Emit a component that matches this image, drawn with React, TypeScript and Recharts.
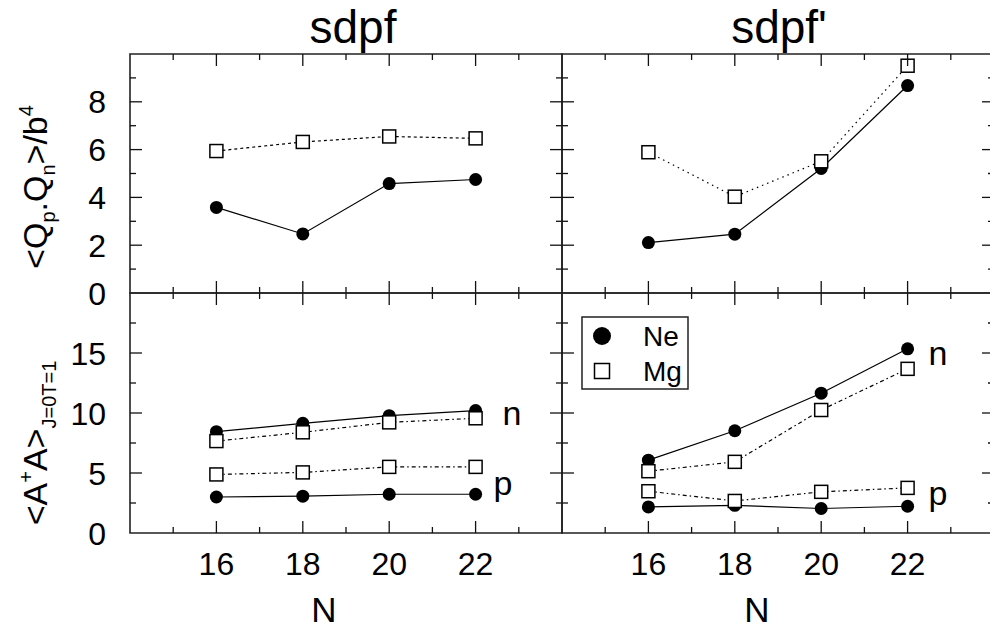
import { LineChart, Line, XAxis, YAxis, ReferenceArea, LabelList } from 'recharts';

// N values (x axis)
const nValues = [16, 18, 20, 22];
const xMajorTicks = [16, 18, 20, 22];
const xAllTicks = [15, 16, 17, 18, 19, 20, 21, 22, 23];

// <Qp.Qn>/b^4
const qqNeSdpf = [3.58, 2.47, 4.58, 4.75];
const qqMgSdpf = [5.94, 6.32, 6.55, 6.47];
const qqNeSdpfP = [2.11, 2.46, 5.21, 8.68];
const qqMgSdpfP = [5.89, 4.03, 5.51, 9.51];

// <A+A> J=0 T=1, neutrons (n) and protons (p)
const aaNeNSdpf = [8.44, 9.14, 9.78, 10.2];
const aaMgNSdpf = [7.66, 8.39, 9.22, 9.56];
const aaNePSdpf = [3.0, 3.07, 3.23, 3.23];
const aaMgPSdpf = [4.88, 5.05, 5.51, 5.51];
const aaNeNSdpfP = [6.07, 8.52, 11.65, 15.35];
const aaMgNSdpfP = [5.15, 5.93, 10.25, 13.68];
const aaNePSdpfP = [2.17, 2.31, 2.04, 2.23];
const aaMgPSdpfP = [3.48, 2.67, 3.43, 3.76];

const qqTicks = [0, 1, 2, 3, 4, 5, 6, 7, 8, 9];
const qqLabels = [0, 2, 4, 6, 8];
const aaTicks = [0, 2.5, 5, 7.5, 10, 12.5, 15, 17.5];
const aaLabels = [0, 5, 10, 15];

const FONT = '"Liberation Sans", Arial, Helvetica, sans-serif';
const W = 1000;
const H = 632;
const INK = '#111';

type Box = { left: number; right: number; top: number; bottom: number };
type Series = { key: string; kind: 'ne' | 'mg'; dash?: string; tag?: string; tagDx?: number; tagDy?: number };

function Panel({ box, rows, series, yMax, yTicks, yMajorStep, yLabels, showX }: {
  box: Box; rows: any[]; series: Series[]; yMax: number; yTicks: number[]; yMajorStep: number;
  yLabels: number[] | null; showX: boolean;
}) {
  const xTick = (p: any) => {
    const v = p.payload.value;
    const major = v % 2 === 0;
    const len = major ? 12 : 6;
    return (
      <g key={`xt-${v}`}>
        <line x1={p.x} x2={p.x} y1={box.bottom} y2={box.bottom - len} stroke={INK} strokeWidth={1.3} />
        <line x1={p.x} x2={p.x} y1={box.top} y2={box.top + len} stroke={INK} strokeWidth={1.3} />
        {showX && xMajorTicks.includes(v) && (
          <text x={p.x} y={575} textAnchor="middle" fontSize={32} fontFamily={FONT} fill="#000">{v}</text>
        )}
      </g>
    );
  };

  const yTick = (p: any) => {
    const v = p.payload.value;
    const major = v % yMajorStep === 0;
    const len = major ? 12 : 6;
    return (
      <g key={`yt-${v}`}>
        {v > 0 && v < yMax && (
          <>
            <line x1={box.left} x2={box.left + len} y1={p.y} y2={p.y} stroke={INK} strokeWidth={1.3} />
            <line x1={box.right - len} x2={box.right} y1={p.y} y2={p.y} stroke={INK} strokeWidth={1.3} />
          </>
        )}
        {yLabels && yLabels.includes(v) && (
          <text x={106} y={p.y + 11.5} textAnchor="end" fontSize={32} fontFamily={FONT} fill="#000">{v}</text>
        )}
      </g>
    );
  };

  return (
    <div style={{ position: 'absolute', left: 0, top: 0 }}>
      <LineChart
        width={W}
        height={H}
        data={rows}
        margin={{ left: box.left - 1, right: W - box.right, top: box.top, bottom: H - box.bottom - 1 }}
      >
        <XAxis dataKey="N" type="number" domain={[14, 24]} ticks={xAllTicks} interval={0}
          height={1} axisLine={false} tickLine={false} tick={xTick} allowDataOverflow />
        <YAxis type="number" domain={[0, yMax]} ticks={yTicks} interval={0}
          width={1} axisLine={false} tickLine={false} tick={yTick} allowDataOverflow />
        <ReferenceArea x1={14} x2={24} y1={0} y2={yMax} fill="none" stroke="#222" strokeWidth={1.6} />
        {series.map((s) => (
          <Line
            key={s.key}
            dataKey={s.key}
            type="linear"
            stroke="#000"
            strokeWidth={1.2}
            strokeDasharray={s.dash}
            isAnimationActive={false}
            activeDot={false}
            dot={(p: any) =>
              s.kind === 'ne' ? (
                <circle key={`${s.key}-${p.index}`} cx={p.cx} cy={p.cy} r={6.5} fill="#000" />
              ) : (
                <rect key={`${s.key}-${p.index}`} x={p.cx - 6.5} y={p.cy - 6.5} width={13} height={13}
                  fill="#fff" stroke="#000" strokeWidth={1.5} />
              )
            }
          >
            {s.tag && (
              <LabelList
                dataKey={s.key}
                content={(p: any) =>
                  p.index === rows.length - 1 ? (
                    <text x={p.x + (s.tagDx || 0)} y={p.y + (s.tagDy || 0)} fontSize={34}
                      fontFamily={FONT} fill="#000">{s.tag}</text>
                  ) : null
                }
              />
            )}
          </Line>
        ))}
      </LineChart>
    </div>
  );
}

const topRows = (ne: number[], mg: number[]) => nValues.map((n, i) => ({ N: n, ne: ne[i], mg: mg[i] }));
const botRows = (neN: number[], mgN: number[], neP: number[], mgP: number[]) =>
  nValues.map((n, i) => ({ N: n, neN: neN[i], mgN: mgN[i], neP: neP[i], mgP: mgP[i] }));

export default function App() {
  const L = 130, M = 562, R = 994;
  const T = 54, C = 293, B = 533;

  const topLeft: Series[] = [
    { key: 'ne', kind: 'ne' },
    { key: 'mg', kind: 'mg', dash: '3 3' },
  ];
  const topRight: Series[] = [
    { key: 'ne', kind: 'ne' },
    { key: 'mg', kind: 'mg', dash: '1.5 4' },
  ];
  const botLeft: Series[] = [
    { key: 'neN', kind: 'ne', tag: 'n', tagDx: 27, tagDy: 14 },
    { key: 'neP', kind: 'ne', tag: 'p', tagDx: 18, tagDy: 1 },
    { key: 'mgN', kind: 'mg', dash: '4 3 1.5 3' },
    { key: 'mgP', kind: 'mg', dash: '4 3 1.5 3' },
  ];
  const botRight: Series[] = [
    { key: 'neN', kind: 'ne', tag: 'n', tagDx: 21, tagDy: 16 },
    { key: 'neP', kind: 'ne', tag: 'p', tagDx: 21, tagDy: -1 },
    { key: 'mgN', kind: 'mg', dash: '4 3 1.5 3' },
    { key: 'mgP', kind: 'mg', dash: '4 3 1.5 3' },
  ];

  return (
    <div style={{ position: 'absolute', left: 0, top: 0, width: 990, height: 632, overflow: 'hidden', background: '#fff' }}>
      <Panel box={{ left: L, right: M, top: T, bottom: C }} rows={topRows(qqNeSdpf, qqMgSdpf)} series={topLeft}
        yMax={10} yTicks={qqTicks} yMajorStep={2} yLabels={qqLabels} showX={false} />
      <Panel box={{ left: M, right: R, top: T, bottom: C }} rows={topRows(qqNeSdpfP, qqMgSdpfP)} series={topRight}
        yMax={10} yTicks={qqTicks} yMajorStep={2} yLabels={null} showX={false} />
      <Panel box={{ left: L, right: M, top: C, bottom: B }} rows={botRows(aaNeNSdpf, aaMgNSdpf, aaNePSdpf, aaMgPSdpf)}
        series={botLeft} yMax={20} yTicks={aaTicks} yMajorStep={5} yLabels={aaLabels} showX />
      <Panel box={{ left: M, right: R, top: C, bottom: B }} rows={botRows(aaNeNSdpfP, aaMgNSdpfP, aaNePSdpfP, aaMgPSdpfP)}
        series={botRight} yMax={20} yTicks={aaTicks} yMajorStep={5} yLabels={null} showX />

      <svg width={990} height={632} style={{ position: 'absolute', left: 0, top: 0 }} fontFamily={FONT}>
        <text x={353} y={43} textAnchor="middle" fontSize={46}>sdpf</text>
        <text x={779} y={43} textAnchor="middle" fontSize={46}>sdpf'</text>

        <text transform="translate(47,187) rotate(-90)" textAnchor="middle" fontSize={34}>
          {'<Q'}<tspan fontSize={20} dy={8}>p</tspan><tspan dy={-8}>.Q</tspan>
          <tspan fontSize={20} dy={8}>n</tspan><tspan dy={-8}>{'>/b'}</tspan>
          <tspan fontSize={20} dy={-14}>4</tspan>
        </text>
        <text transform="translate(47,443) rotate(-90)" textAnchor="middle" fontSize={34}>
          {'<A'}<tspan fontSize={20} dy={-14}>+</tspan><tspan dy={14}>{'A>'}</tspan>
          <tspan fontSize={20} dy={9}>J=0T=1</tspan>
        </text>

        <text x={324} y={622} textAnchor="middle" fontSize={35}>N</text>
        <text x={757} y={622} textAnchor="middle" fontSize={35}>N</text>

        <rect x={582} y={317} width={106} height={72} fill="#fff" stroke="#222" strokeWidth={1.5} />
        <circle cx={602} cy={336} r={9} fill="#000" />
        <rect x={594.5} y={363.5} width={15} height={15} fill="#fff" stroke="#000" strokeWidth={1.5} />
        <text x={643} y={346} fontSize={28}>Ne</text>
        <text x={643} y={381} fontSize={28}>Mg</text>
      </svg>
    </div>
  );
}
